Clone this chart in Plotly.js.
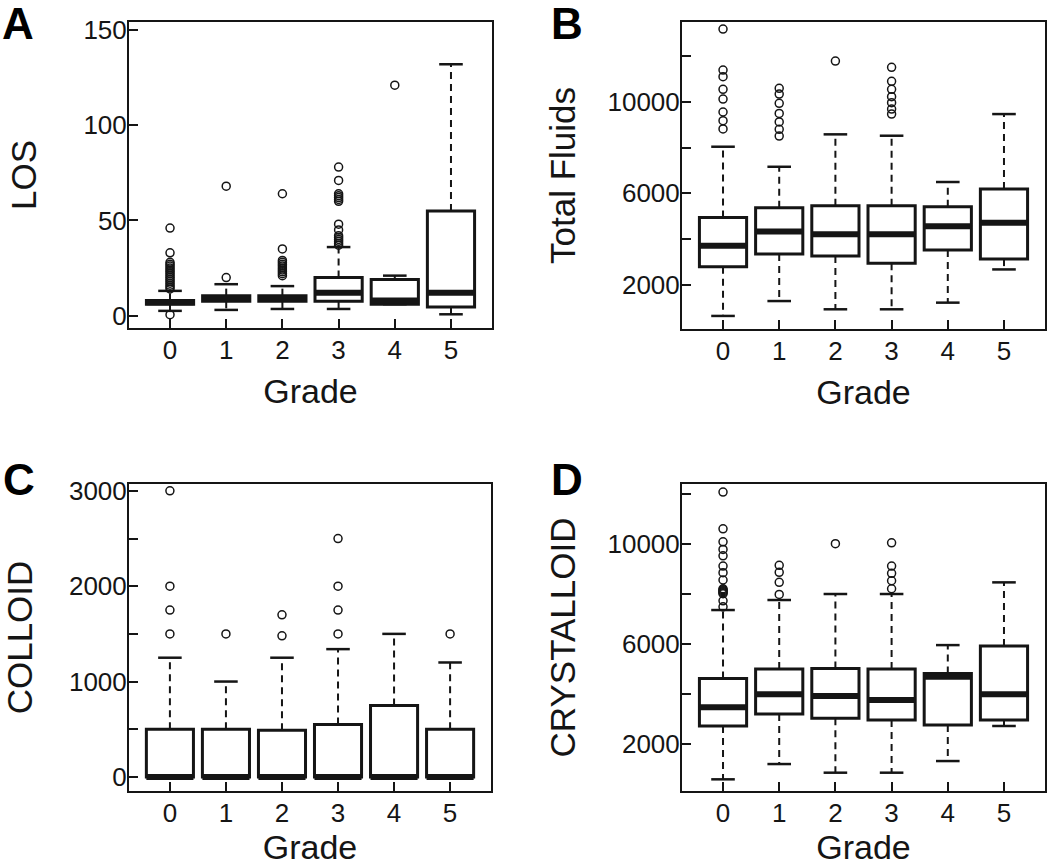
<!DOCTYPE html>
<html>
<head>
<meta charset="utf-8">
<script src="https://cdn.plot.ly/plotly-3.0.1.min.js"></script>
<style>html,body{margin:0;padding:0;background:#fff;}#chart{width:1050px;height:866px;}</style>
</head>
<body>
<div id="chart"></div>
<script>
// ---------- data ----------
const grades = [0, 1, 2, 3, 4, 5];

// Panel A: LOS
const losQ1   = [6, 7.5, 7.5, 7.5, 6, 4.5];
const losMed  = [7, 9, 9, 12, 8, 12];
const losQ3   = [8, 10.5, 10.5, 20, 19, 55];
const losLow  = [2.5, 3, 3.5, 3.5, 6, 0.7];
const losHigh = [13, 16.5, 15.5, 36, 21, 132];
const losOutliers = [
  [0.5, 14, 15, 16, 17, 18, 19, 20, 21, 22, 23, 24, 25, 26, 27, 28, 33, 46],
  [20, 68],
  [21, 22, 23, 24, 25, 26, 27, 28, 29, 35, 64],
  [37, 38, 39, 40, 41, 42, 45, 48, 60, 61, 62, 63, 64, 71, 78],
  [121],
  []
];

// Panel B: Total Fluids
const tfQ1   = [2800, 3350, 3270, 2950, 3530, 3130];
const tfMed  = [3715, 4330, 4210, 4210, 4560, 4720];
const tfQ3   = [4950, 5370, 5460, 5460, 5420, 6190];
const tfLow  = [650, 1300, 940, 940, 1230, 2680];
const tfHigh = [8035, 7160, 8575, 8515, 6495, 9460];
const tfOutliers = [
  [8810, 9170, 9550, 10115, 10540, 11090, 11380, 13170],
  [8500, 8795, 9115, 9490, 9930, 10335, 10585],
  [11775],
  [9460, 9680, 9955, 10220, 10540, 10890, 11500],
  [],
  []
];

// Panel C: COLLOID
const colQ1   = [0, 0, 0, 0, 0, 0];
const colMed  = [0, 0, 0, 0, 0, 0];
const colQ3   = [500, 500, 490, 550, 750, 500];
const colLow  = [0, 0, 0, 0, 0, 0];
const colHigh = [1250, 1000, 1250, 1340, 1500, 1200];
const colOutliers = [
  [1500, 1750, 2000, 3000],
  [1500],
  [1480, 1700],
  [1500, 1750, 2000, 2500],
  [],
  [1500]
];

// Panel D: CRYSTALLOID
const crQ1   = [2720, 3200, 3025, 2960, 2760, 2960];
const crMed  = [3465, 3985, 3915, 3755, 4690, 3985];
const crQ3   = [4620, 4995, 5020, 4995, 4820, 5910];
const crLow  = [590, 1200, 855, 855, 1320, 2720];
const crHigh = [7350, 7750, 7990, 7990, 5950, 8455];
const crOutliers = [
  [7480, 7720, 8000, 8040, 8080, 8120, 8160, 8200, 8550, 8840, 9105, 9515, 9770, 10075, 10595, 12060],
  [7975, 8455, 8855, 9135],
  [10000],
  [8200, 8520, 8815, 9105, 10035],
  [],
  []
];

// ---------- styling ----------
const INK = '#151515';
const BOX_W = 0.84;
const CAP_HALF = 0.21;

function panelTraces(xa, ya, q1, med, q3, low, high, outs) {
  const traces = [];
  const wx = [], wy = [];
  grades.forEach((g, i) => {
    wx.push(g, g, null, g, g, null);
    wy.push(q3[i], high[i], null, q1[i], low[i], null);
  });
  traces.push({type: 'scatter', mode: 'lines', x: wx, y: wy, xaxis: xa, yaxis: ya,
    line: {color: INK, width: 2, dash: '7px,5px'}, hoverinfo: 'skip'});
  const cx = [], cy = [];
  grades.forEach((g, i) => {
    cx.push(g - CAP_HALF, g + CAP_HALF, null, g - CAP_HALF, g + CAP_HALF, null);
    cy.push(high[i], high[i], null, low[i], low[i], null);
  });
  traces.push({type: 'scatter', mode: 'lines', x: cx, y: cy, xaxis: xa, yaxis: ya,
    line: {color: INK, width: 2.5}, hoverinfo: 'skip'});
  traces.push({type: 'box', x: grades, q1: q1, median: med, q3: q3,
    lowerfence: q1, upperfence: q3, xaxis: xa, yaxis: ya,
    width: BOX_W, whiskerwidth: 0, boxpoints: false,
    fillcolor: '#ffffff', line: {color: INK, width: 3}});
  const mx = [], my = [];
  grades.forEach((g, i) => {
    mx.push(g - BOX_W / 2, g + BOX_W / 2, null);
    my.push(med[i], med[i], null);
  });
  traces.push({type: 'scatter', mode: 'lines', x: mx, y: my, xaxis: xa, yaxis: ya,
    line: {color: INK, width: 6}, hoverinfo: 'skip'});
  const ox = [], oy = [];
  grades.forEach((g, i) => {
    outs[i].forEach(v => { ox.push(g); oy.push(v); });
  });
  traces.push({type: 'scatter', mode: 'markers', x: ox, y: oy, xaxis: xa, yaxis: ya,
    marker: {symbol: 'circle-open', size: 8, color: INK, line: {width: 1.5, color: INK}}});
  return traces;
}

const data = [].concat(
  panelTraces('x', 'y', losQ1, losMed, losQ3, losLow, losHigh, losOutliers),
  panelTraces('x2', 'y2', tfQ1, tfMed, tfQ3, tfLow, tfHigh, tfOutliers),
  panelTraces('x3', 'y3', colQ1, colMed, colQ3, colLow, colHigh, colOutliers),
  panelTraces('x4', 'y4', crQ1, crMed, crQ3, crLow, crHigh, crOutliers)
);

const W = 1050, H = 866;
const dx = (a, b) => [a / W, b / W];
const dy = (top, bottom) => [1 - bottom / H, 1 - top / H];

function xAxis(domain, anchor, standoff) {
  return {
    domain: domain, anchor: anchor, range: [-0.73, 5.73],
    tickvals: grades, ticktext: grades.map(String),
    ticks: 'inside', ticklen: 9, tickwidth: 2, tickcolor: INK,
    showline: true, mirror: true, linewidth: 2, linecolor: INK,
    showgrid: false, zeroline: false, automargin: false,
    tickfont: {size: 26, color: INK}, ticklabelstandoff: -2,
    title: {text: 'Grade', font: {size: 34, color: INK}, standoff: standoff}
  };
}
function yAxis(domain, anchor, range, tickvals, ticktext, title, standoff) {
  return {
    domain: domain, anchor: anchor, range: range,
    tickvals: tickvals, ticktext: ticktext,
    ticks: 'inside', ticklen: 9, tickwidth: 2, tickcolor: INK,
    showline: true, mirror: true, linewidth: 2, linecolor: INK,
    showgrid: false, zeroline: false, automargin: false,
    tickfont: {size: 26, color: INK}, ticklabelstandoff: -5,
    title: {text: title, font: {size: 35, color: INK}, standoff: standoff}
  };
}

const layout = {
  width: W, height: H,
  margin: {l: 0, r: 0, t: 0, b: 0},
  paper_bgcolor: '#ffffff', plot_bgcolor: '#ffffff',
  showlegend: false,
  font: {family: 'Liberation Sans, Arial, Helvetica, sans-serif', color: INK},
  xaxis:  xAxis(dx(129, 492), 'y', 15),
  xaxis2: xAxis(dx(682, 1045), 'y2', 15),
  xaxis3: xAxis(dx(129, 491), 'y3', 15),
  xaxis4: xAxis(dx(682, 1045), 'y4', 15),
  yaxis:  yAxis(dy(22, 328), 'x', [-6.5, 154.2], [0, 50, 100, 150], ['0', '50', '100', '150'], 'LOS', 36),
  yaxis2: yAxis(dy(22, 329), 'x2', [80, 13478], [2000, 4000, 6000, 8000, 10000, 12000],
                ['2000', '', '6000', '', '10000', ''], 'Total Fluids', 21),
  yaxis3: yAxis(dy(484, 791), 'x3', [-148, 3072], [0, 500, 1000, 1500, 2000, 2500, 3000],
                ['0', '', '1000', '', '2000', '', '3000'], 'COLLOID', 29),
  yaxis4: yAxis(dy(484, 791), 'x4', [124, 12383], [2000, 4000, 6000, 8000, 10000, 12000],
                ['2000', '', '6000', '', '10000', ''], 'CRYSTALLOID', 21),
  annotations: [
    {text: '<b>A</b>', x: 18 / W, y: 1 - 23 / H},
    {text: '<b>B</b>', x: 567 / W, y: 1 - 23 / H},
    {text: '<b>C</b>', x: 19 / W, y: 1 - 480 / H},
    {text: '<b>D</b>', x: 567 / W, y: 1 - 480 / H}
  ].map(a => Object.assign({xref: 'paper', yref: 'paper', xanchor: 'center', yanchor: 'middle',
    showarrow: false, font: {size: 44, color: '#000'}}, a))
};

Plotly.newPlot('chart', data, layout, {staticPlot: true, displayModeBar: false});
</script>
</body>
</html>
